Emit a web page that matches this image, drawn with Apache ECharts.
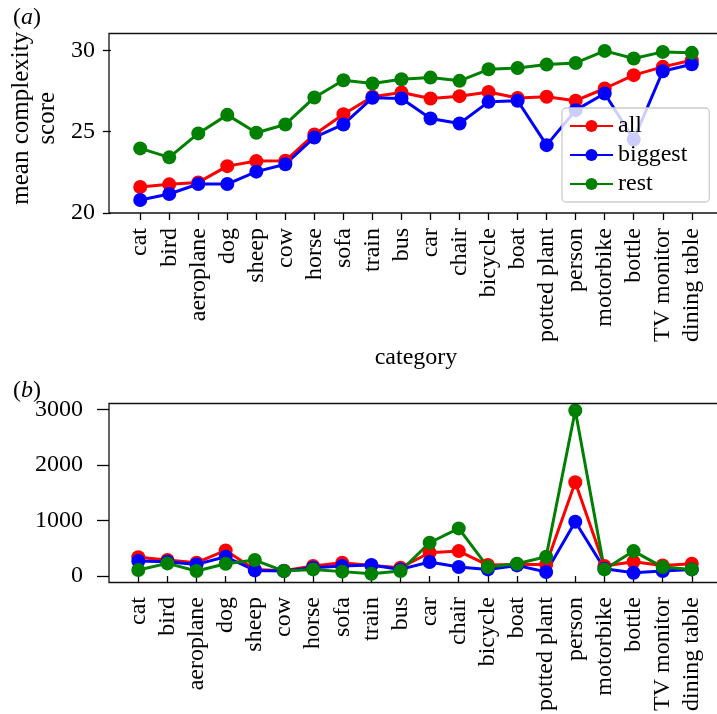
<!DOCTYPE html>
<html>
<head>
<meta charset="utf-8">
<script src="https://cdn.jsdelivr.net/npm/echarts@6/dist/echarts.min.js"></script>
<style>
    html, body { margin: 0; padding: 0; background: #fff; }
    #main { width: 717px; height: 714px; }
</style>
</head>
<body>
<div id="main"></div>
<script>
// categories shared by both panels
const categories = ['cat', 'bird', 'aeroplane', 'dog', 'sheep', 'cow', 'horse', 'sofa', 'train', 'bus',
    'car', 'chair', 'bicycle', 'boat', 'potted plant', 'person', 'motorbike', 'bottle', 'TV monitor', 'dining table'];

// panel (a): mean complexity score
const scoreAll = [21.6, 21.76, 21.88, 22.88, 23.19, 23.21, 24.83, 26.07, 27.14, 27.4,
    27.04, 27.18, 27.44, 27.07, 27.14, 26.9, 27.65, 28.47, 28.98, 29.39];
const scoreBiggest = [20.8, 21.17, 21.78, 21.78, 22.54, 23.0, 24.64, 25.44, 27.08, 27.04,
    25.81, 25.5, 26.83, 26.9, 24.17, 26.32, 27.34, 24.52, 28.71, 29.14];
const scoreRest = [23.97, 23.42, 24.89, 26.03, 24.93, 25.44, 27.1, 28.16, 27.96, 28.22,
    28.32, 28.12, 28.83, 28.91, 29.12, 29.22, 29.96, 29.49, 29.9, 29.84];

// panel (b): counts
const countAll = [340, 288, 240, 462, 120, 95, 180, 240, 192, 150,
    420, 450, 198, 210, 210, 1690, 180, 258, 192, 222];
const countBiggest = [270, 258, 210, 348, 102, 90, 150, 180, 198, 120,
    252, 162, 120, 192, 72, 978, 132, 60, 90, 120];
const countRest = [108, 228, 90, 222, 288, 90, 120, 80, 40, 90,
    600, 858, 162, 222, 348, 2980, 120, 450, 162, 120];

const ticksA = [20, 25, 30];
const ticksB = [0, 1000, 2000, 3000];

const FONT = 'Liberation Serif';
const FS = 24;
const colors = { all: '#ff0000', biggest: '#0000ff', rest: '#008000' };

let myChart = echarts.init(document.getElementById('main'));

function xAxisFor(gridIndex, name) {
    return {
        type: 'category',
        gridIndex: gridIndex,
        data: categories,
        boundaryGap: false,
        name: name,
        nameLocation: 'middle',
        nameGap: 131,
        nameTextStyle: { fontFamily: FONT, fontSize: FS, color: '#000' },
        axisLine: { show: false },
        axisTick: { show: true, length: 7, lineStyle: { color: '#000', width: 1.3 } },
        axisLabel: { interval: 0, rotate: 90, margin: 15, fontFamily: FONT, fontSize: FS, color: '#000' },
        splitLine: { show: false }
    };
}

function yAxisFor(gridIndex, min, max, ticks, name, tickLen, labelGap) {
    return {
        type: 'value',
        gridIndex: gridIndex,
        min: min,
        max: max,
        offset: 29.3,
        name: name,
        nameLocation: 'middle',
        nameGap: 48,
        nameTextStyle: { fontFamily: FONT, fontSize: 25, color: '#000', lineHeight: 26, padding: [0, 0, 0, 10] },
        axisLine: { show: false },
        axisTick: { show: true, length: tickLen, customValues: ticks, lineStyle: { color: '#000', width: 1.3 } },
        axisLabel: {
            customValues: ticks, margin: labelGap, fontFamily: FONT, fontSize: FS, color: '#000',
            formatter: function (v) { return String(v); }
        },
        splitLine: { show: false }
    };
}

function lineSeries(name, data, idx) {
    return {
        name: name,
        type: 'line',
        xAxisIndex: idx,
        yAxisIndex: idx,
        data: data,
        symbol: 'circle',
        symbolSize: 14,
        showSymbol: true,
        itemStyle: { color: colors[name] },
        lineStyle: { color: colors[name], width: 3 },
        z: 2
    };
}

function frame(top, bottom) {
    return {
        type: 'rect',
        shape: { x: 109, y: top, width: 611, height: bottom - top },
        style: { fill: null, stroke: '#111', lineWidth: 1.3 },
        z: 10
    };
}

const labelRich = {
    p: { fontFamily: FONT, fontSize: FS, fontWeight: 'normal', color: '#000' },
    i: { fontFamily: FONT, fontSize: FS, fontWeight: 'normal', fontStyle: 'italic', color: '#000' }
};

myChart.setOption({
    animation: false,
    backgroundColor: '#fff',
    title: [
        { text: '{p|(}{i|a}{p|)}', left: 8, top: 1, textStyle: { fontWeight: 'normal', rich: labelRich } },
        { text: '{p|(}{i|b}{p|)}', left: 8, top: 374, textStyle: { fontWeight: 'normal', rich: labelRich } }
    ],
    legend: {
        data: ['all', 'biggest', 'rest'],
        orient: 'vertical',
        left: 562,
        top: 108,
        itemWidth: 43,
        itemHeight: 15,
        itemGap: 5,
        padding: [6, 22, 6, 7],
        backgroundColor: 'rgba(255,255,255,0.8)',
        borderColor: '#cccccc',
        borderWidth: 1.3,
        borderRadius: 4,
        textStyle: { fontFamily: FONT, fontSize: FS, color: '#000' },
        z: 20
    },
    grid: [
        { left: 138.3, right: 25.2, top: 33.5, height: 179.5 },
        { left: 138.3, right: 25.2, top: 403.5, height: 179 }
    ],
    xAxis: [xAxisFor(0, 'category'), xAxisFor(1, '')],
    yAxis: [
        yAxisFor(0, 20, 31.03, ticksA, 'mean complexity\nscore', 8, 16),
        yAxisFor(1, -107, 3107, ticksB, '', 12, 26)
    ],
    series: [
        lineSeries('all', scoreAll, 0),
        lineSeries('biggest', scoreBiggest, 0),
        lineSeries('rest', scoreRest, 0),
        lineSeries('all', countAll, 1),
        lineSeries('biggest', countBiggest, 1),
        lineSeries('rest', countRest, 1)
    ],
    graphic: [frame(33.5, 213), frame(403.5, 582.5)]
});
</script>
</body>
</html>
